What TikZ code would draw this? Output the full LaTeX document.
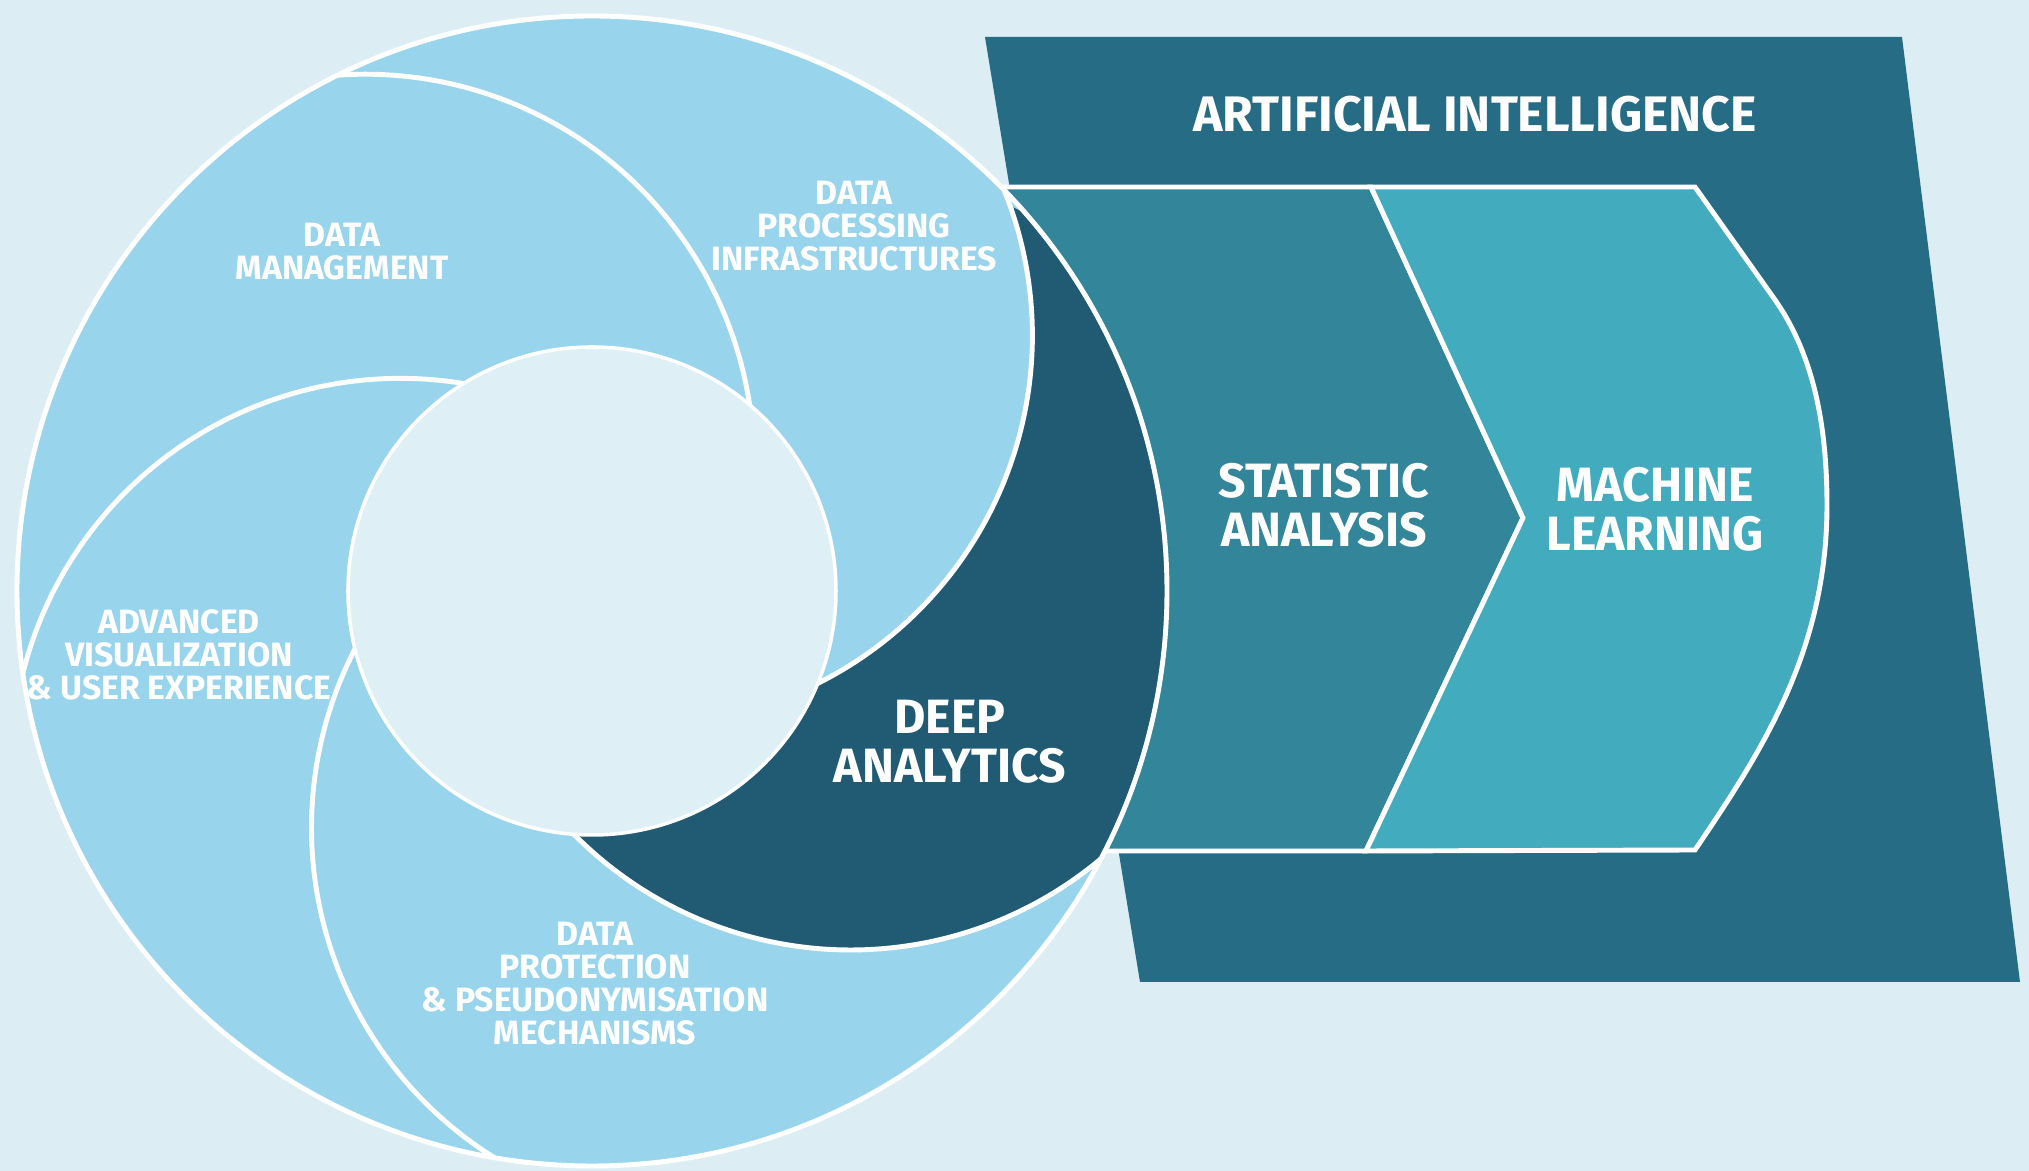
\documentclass[tikz,border=0pt]{standalone}
\usepackage{fontspec}
\setmainfont{Fira Sans}
\definecolor{bgblue}{HTML}{DCEEF3}
\definecolor{petal}{HTML}{98D4EC}
\definecolor{hole}{HTML}{DEF0F5}
\definecolor{deepblue}{HTML}{205A73}
\definecolor{aiblue}{HTML}{276C85}
\definecolor{statblue}{HTML}{33869A}
\definecolor{mlblue}{HTML}{43ABBE}

\begin{document}
\begin{tikzpicture}[x=0.1mm,y=0.1mm,
  lbl/.style={text=white,align=center,inner sep=0pt},
  small/.style={lbl,font=\fontsize{9.6}{9.4}\selectfont\bfseries},
  big/.style={lbl,font=\fontsize{13.7}{13.9}\selectfont\bfseries},
  edge/.style={draw=white,line width=1.4pt}]

\useasboundingbox (-592,-580) rectangle (1437,591);
\fill[bgblue] (-592,-580) rectangle (1437,591);

% AI frame and the two chevrons
\fill[aiblue] (393,554) -- (1310,554) -- (1428,-391) -- (548,-391) -- cycle;
\node[lbl,font=\fontsize{14.2}{15}\selectfont\bfseries] (ai) at (883,477) {ARTIFICIAL INTELLIGENCE};

\draw[edge,fill=statblue] (300,404) -- (779,404) -- (931,73) -- (774,-260) -- (300,-260) -- cycle;
\draw[edge,fill=mlblue] (779,404) -- (1103,404) -- (1181,294)
  .. controls (1220,240) and (1235,170) .. (1235,86)
  .. controls (1235,-60) and (1170,-160) .. (1103,-259) -- (774,-260) -- (931,73) -- cycle;
\node[big] (stat) at (732,86) {STATISTIC\\ANALYSIS};
\node[big] (ml) at (1063,82) {MACHINE\\LEARNING};

% wheel
\fill[petal] (0,0) circle (575);
\begin{scope}
\clip (0,0) circle (575);
\clip[rotate=266] (-48,256) circle (389);
\fill[deepblue,even odd rule] (-600,-600) rectangle (600,600) (78.6:260.5) circle (389);
\end{scope}

\begin{scope}
\clip (0,0) circle (575);
\foreach \a in {50,122,194,266,338}
  \draw[edge,rotate=\a] (-48,256) ++(-50:389) arc[start angle=-50,end angle=50,radius=389];
\end{scope}

\draw[white,line width=1pt,fill=hole] (0,0) circle (244);
\draw[edge] (0,0) circle (575);

\node[big] (deep) at (358,-151) {DEEP\\ANALYTICS};
\node[small] (mgmt) at (-250,339) {DATA\\MANAGEMENT};
\node[small] (proc) at (262,365) {DATA\\PROCESSING\\INFRASTRUCTURES};
\node[small] (visual) at (-413,-64) {ADVANCED\\VISUALIZATION\\\& USER EXPERIENCE};
\node[small] (protect) at (3,-393) {DATA\\PROTECTION\\\& PSEUDONYMISATION\\MECHANISMS};
\end{tikzpicture}
\end{document}
